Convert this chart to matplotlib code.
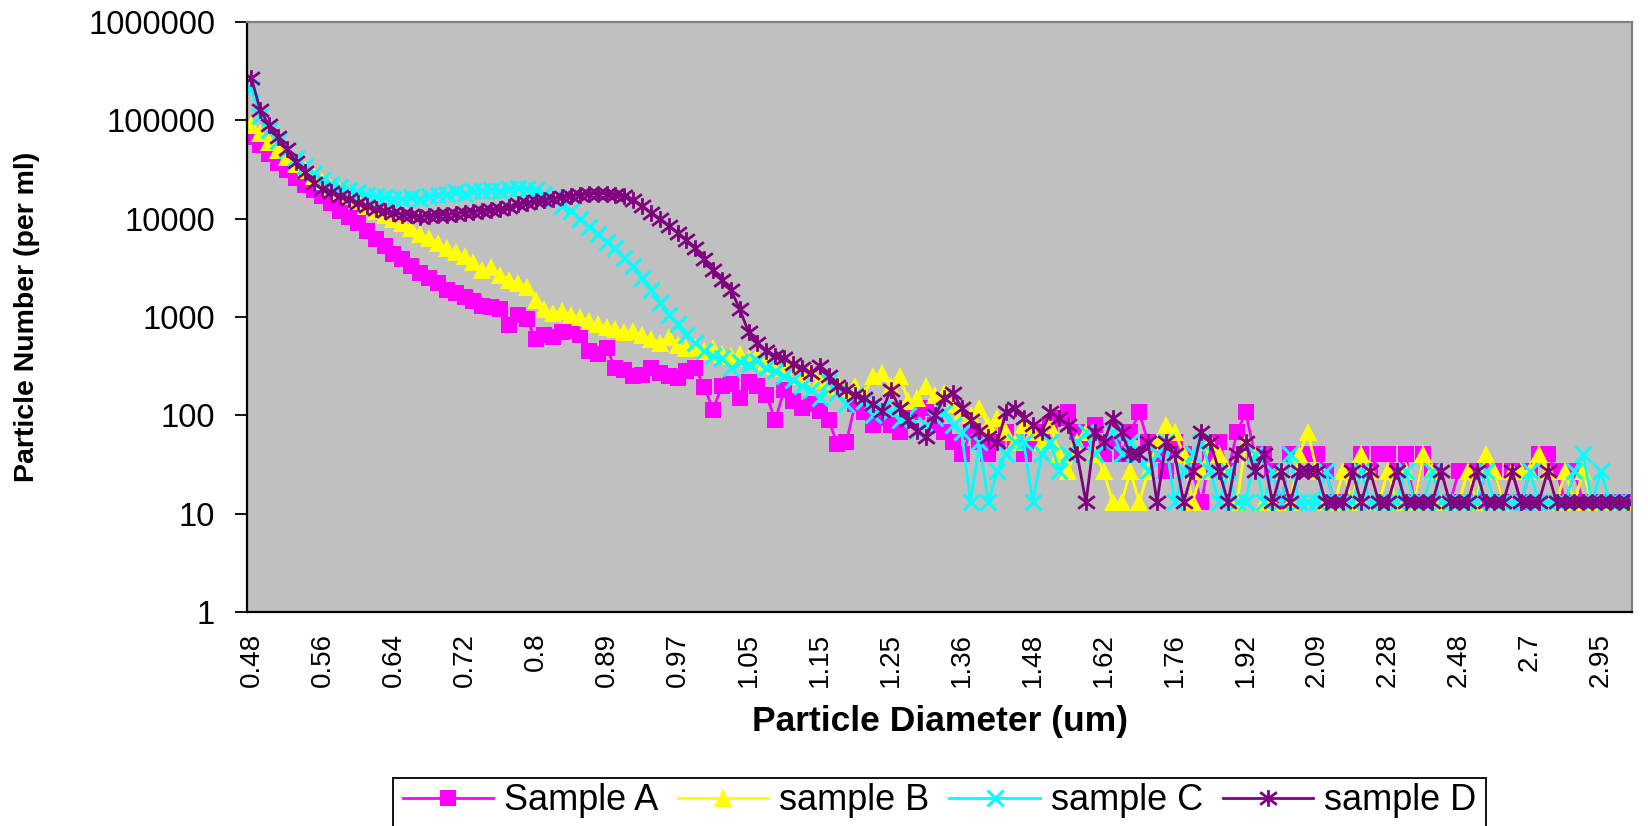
import numpy as np
import matplotlib
matplotlib.use("Agg")
import matplotlib.pyplot as plt
from matplotlib.path import Path
from matplotlib.patches import Rectangle

# x-axis category labels (one label every 8 categories)
tick_labels = ["0.48", "0.56", "0.64", "0.72", "0.8", "0.89", "0.97", "1.05",
               "1.15", "1.25", "1.36", "1.48", "1.62", "1.76", "1.92", "2.09",
               "2.28", "2.48", "2.7", "2.95"]
label_step = 8

sample_a = [
    67000, 56000, 45000, 37000, 31000, 26000, 22000, 19500,
    17000, 14500, 12000, 10500, 9000, 7500, 6200, 5300,
    4400, 3900, 3300, 2800, 2500, 2200, 1900, 1750,
    1600, 1450, 1300, 1250, 1200, 820, 1050, 950,
    600, 650, 620, 700, 720, 650, 450, 420,
    480, 300, 290, 250, 260, 300, 270, 250,
    240, 280, 300, 195, 114, 200, 210, 150,
    220, 200, 160, 89, 180, 140, 120, 130,
    110, 90, 51, 53, 130, 107, 80, 93,
    80, 67, 93, 107, 120, 80, 67, 53,
    40, 67, 53, 40, 53, 67, 53, 40,
    53, 67, 80, 93, 107, 67, 53, 80,
    40, 53, 40, 67, 107, 53, 40, 27,
    53, 40, 27, 13, 40, 53, 27, 67,
    107, 40, 40, 27, 13, 40, 40, 40,
    40, 27, 13, 13, 27, 40, 27, 40,
    40, 27, 40, 13, 40, 27, 13, 13,
    27, 27, 13, 27, 27, 13, 27, 13,
    27, 40, 40, 27, 13, 27, 13, 13,
    13, 13, 13, 13]

sample_b = [
    89000, 75000, 60000, 50000, 42000, 36000, 31000, 27000,
    24000, 21000, 19000, 17000, 15000, 13500, 12000, 11000,
    10000, 9000, 8000, 7000, 6300, 5600, 5000, 4600,
    4200, 3600, 3000, 3200, 2700, 2400, 2200, 2000,
    1500, 1200, 1100, 1150, 1050, 1000, 900, 850,
    800, 750, 700, 720, 650, 600, 550, 620,
    520, 480, 500, 450, 480, 420, 400, 420,
    380, 400, 350, 320, 300, 330, 250, 280,
    230, 200, 220, 180, 200, 160, 250, 270,
    200, 250, 140, 150, 200, 160, 170, 130,
    110, 100, 120, 80, 93, 67, 53, 80,
    67, 53, 80, 40, 27, 53, 67, 40,
    27, 13, 13, 27, 13, 27, 53, 80,
    67, 40, 13, 27, 53, 40, 27, 13,
    53, 40, 13, 13, 27, 13, 40, 67,
    27, 13, 13, 27, 13, 40, 27, 13,
    27, 13, 27, 13, 40, 27, 13, 13,
    13, 27, 13, 40, 27, 13, 27, 27,
    27, 40, 27, 13, 27, 13, 27, 13,
    13, 13, 13, 13]

sample_c = [
    210000, 110000, 80000, 62000, 50000, 41000, 34000, 29000,
    25000, 22500, 21000, 19500, 18500, 17500, 17000, 16500,
    16000, 16000, 16500, 16000, 17000, 17500, 18000, 18500,
    18000, 19000, 19000, 19500, 19000, 20000, 20500, 20000,
    19500, 18000, 16000, 13500, 12000, 10000, 8300, 7000,
    5800, 5000, 4000, 3300, 2500, 1900, 1400, 1050,
    850, 660, 550, 450, 400, 380, 300, 350,
    330, 360, 300, 280, 250, 230, 200, 180,
    150, 220, 170, 130, 160, 140, 100, 120,
    110, 90, 100, 70, 80, 93, 107, 80,
    67, 13, 53, 13, 27, 40, 53, 53,
    13, 40, 53, 27, 40, 53, 67, 40,
    53, 67, 40, 53, 40, 27, 40, 53,
    13, 27, 40, 53, 27, 13, 27, 13,
    13, 40, 13, 27, 13, 40, 13, 13,
    13, 27, 13, 13, 13, 27, 13, 13,
    13, 13, 27, 13, 13, 27, 13, 13,
    13, 13, 13, 27, 13, 13, 13, 13,
    27, 13, 13, 13, 13, 27, 40, 13,
    27, 13, 13, 13]

sample_d = [
    267000, 126000, 89000, 67000, 51000, 38000, 30000, 23000,
    20000, 18500, 17000, 16000, 14500, 13500, 12500, 12000,
    11500, 11000, 10800, 10500, 10700, 10800, 11000, 11200,
    11500, 11800, 12000, 12200, 12500, 13000, 14000, 14500,
    15000, 15500, 16000, 16500, 17000, 17500, 17800, 18000,
    18000, 17500, 17000, 15500, 13500, 11500, 10000, 8500,
    7200, 6000, 5000, 3900, 3000, 2400, 1900, 1200,
    700, 550, 450, 400, 380, 330, 300, 270,
    320, 250, 200, 180, 160, 150, 130, 110,
    180, 120, 90, 70, 60, 100, 150, 170,
    120, 90, 70, 60, 53, 107, 120, 93,
    80, 67, 107, 93, 80, 40, 13, 67,
    53, 93, 67, 40, 40, 53, 13, 53,
    40, 13, 27, 67, 53, 27, 13, 40,
    53, 27, 40, 13, 27, 13, 27, 27,
    27, 13, 13, 13, 27, 13, 27, 13,
    13, 27, 13, 13, 13, 13, 27, 13,
    13, 13, 27, 13, 13, 13, 27, 13,
    13, 13, 27, 13, 13, 13, 13, 13,
    13, 13, 13, 13]

series_names = ["Sample A", "sample B", "sample C", "sample D"]
series_colors = ["#FF00FF", "#FFFF00", "#00FFFF", "#800080"]

star = Path([(-1, -0.75), (1, 0.75), (-1, 0.75), (1, -0.75), (0, -1), (0, 1)],
            [Path.MOVETO, Path.LINETO, Path.MOVETO, Path.LINETO, Path.MOVETO, Path.LINETO])

plt.rcParams['font.family'] = ['Liberation Sans', 'DejaVu Sans']

W, H = 1648, 826
fig = plt.figure(figsize=(W / 100, H / 100), dpi=100)
L, R, T, B = 247, 1632, 22, 612
ax = fig.add_axes([L / W, 1 - B / H, (R - L) / W, (B - T) / H])
ax.set_facecolor('#C0C0C0')

n = len(sample_a)
x = np.arange(n)

styles = [
    dict(marker='s', markersize=12, markeredgewidth=0),
    dict(marker='^', markersize=13.5, markeredgewidth=0),
    dict(marker='x', markersize=11, markeredgewidth=2.2),
    dict(marker=star, markersize=12, markeredgewidth=2.0),
]
for vals, name, col, st in zip([sample_a, sample_b, sample_c, sample_d],
                               series_names, series_colors, styles):
    ax.plot(x, vals, color=col, lw=2.0, markerfacecolor=col,
            markeredgecolor=col, label=name, clip_on=True, **st)

ax.set_yscale('log')
ax.set_ylim(1, 1e6)
ax.set_xlim(-0.5, n - 0.5)
yt = [1, 10, 100, 1000, 10000, 100000, 1000000]
ax.set_yticks(yt)
ax.set_yticklabels([str(v) for v in yt])
ax.yaxis.set_minor_locator(matplotlib.ticker.NullLocator())
ax.set_xticks(np.arange(0, n, label_step)[:len(tick_labels)])
ax.set_xticklabels(tick_labels, rotation=90)

ax.tick_params(axis='y', direction='out', length=9, width=1.3, pad=14,
               labelsize=23.5, colors='black')
ax.tick_params(axis='x', length=0, pad=15, labelsize=20)

for s in ['left', 'bottom']:
    ax.spines[s].set_color('black')
    ax.spines[s].set_linewidth(1.6)
for s in ['top', 'right']:
    ax.spines[s].set_color('#808080')
    ax.spines[s].set_linewidth(1.6)

fig.text((L + R) / 2 / W, 1 - 721 / H, "Particle Diameter (um)", ha='center',
         va='center', fontsize=25.5, fontweight='bold')
fig.text(27 / W, 1 - 317 / H, "Particle Number (per ml)", ha='center',
         va='center', rotation=90, fontsize=20.5, fontweight='bold')

# legend (frame drawn separately: it runs past the bottom edge of the figure)
leg = fig.legend(loc='center', bbox_to_anchor=((L + R) / 2 / W, 1 - 801 / H),
                 ncol=4, frameon=False, fontsize=26,
                 handlelength=2.5, handletextpad=0.3, columnspacing=0.55,
                 borderpad=0.0, borderaxespad=0)
fig.canvas.draw()
bb = leg.get_window_extent()
pad = 10
top_px = H - 778
frame = Rectangle(((bb.x0 - pad) / W, -20 / H), (bb.width + 2 * pad) / W,
                  (top_px + 20) / H, transform=fig.transFigure,
                  facecolor='white', edgecolor='black', linewidth=1.3, zorder=0)
fig.patches.append(frame)

fig.savefig('out.png', dpi=100, facecolor='white')
